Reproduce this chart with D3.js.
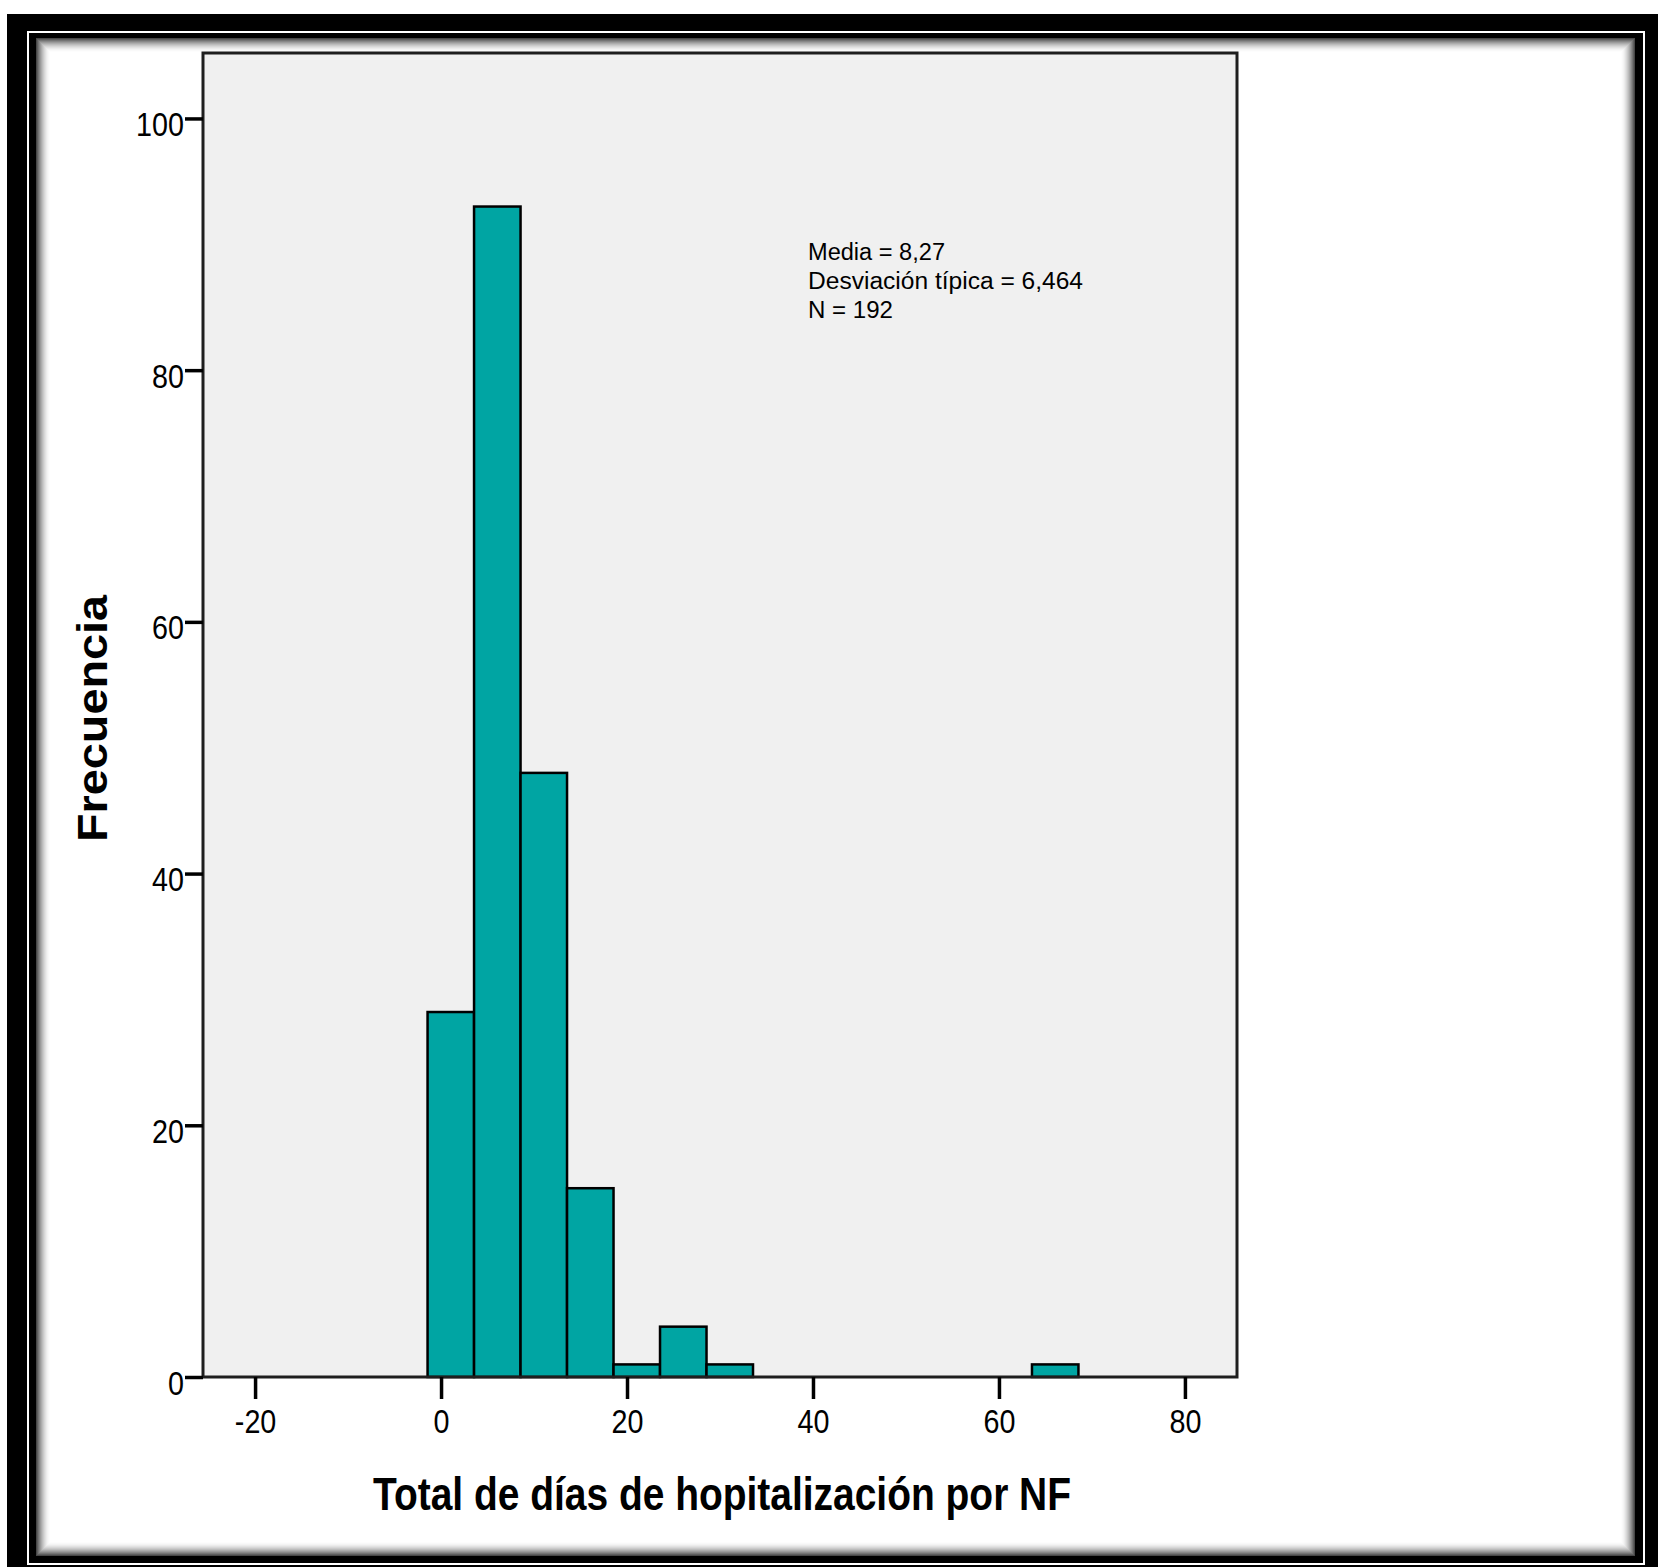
<!DOCTYPE html>
<html>
<head>
<meta charset="utf-8">
<script src="https://cdn.jsdelivr.net/npm/d3@7"></script>
<style>
  html, body { margin: 0; padding: 0; background: #ffffff; }
  svg { display: block; }
  text { font-family: "Liberation Sans", Arial, sans-serif; fill: #000; }
</style>
</head>
<body>
<svg id="chart" width="1658" height="1567"></svg>
<script>
// Histogram: bin edges (days) and frequency per bin
const binEdges = [-1.45, 3.55, 8.55, 13.55, 18.55, 23.55, 28.55, 33.55, 38.55, 43.55, 48.55, 53.55, 58.55, 63.55, 68.55];
const binCounts = [29, 93, 48, 15, 1, 4, 1, 0, 0, 0, 0, 0, 0, 1];

const xTicks = [-20, 0, 20, 40, 60, 80];
const yTicks = [0, 20, 40, 60, 80, 100];
const xDomain = [-25.6, 85.6];
const yDomain = [0, 105.2];

const statLines = ["Media = 8,27", "Desviación típica = 6,464", "N = 192"];
const xTitle = "Total de días de hopitalización por NF";
const yTitle = "Frecuencia";

const svg = d3.select("#chart");

// ---- decorative double frame with inner shadow ----
svg.append("rect").attr("x", 7).attr("y", 14).attr("width", 1651).attr("height", 1553).attr("fill", "#000");
svg.append("rect").attr("x", 28).attr("y", 32).attr("width", 1616).attr("height", 1532)
  .attr("fill", "none").attr("stroke", "#fff").attr("stroke-width", 2);
const inner = { x: 36, y: 38, w: 1599, h: 1518 };
svg.append("rect").attr("x", inner.x).attr("y", inner.y).attr("width", inner.w).attr("height", inner.h).attr("fill", "#fff");
const shadowSteps = d3.range(14);
svg.append("g").selectAll("rect").data(shadowSteps).join("rect")
  .attr("x", i => inner.x + i + 0.5)
  .attr("y", i => inner.y + i + 0.5)
  .attr("width", i => inner.w - 2 * i - 1)
  .attr("height", i => inner.h - 2 * i - 1)
  .attr("fill", "none")
  .attr("stroke", "#000")
  .attr("stroke-opacity", i => 0.72 * Math.pow(1 - i / 14, 1.8));

// ---- plot area ----
const plot = { left: 203, right: 1237, top: 53, bottom: 1377 };
const x = d3.scaleLinear().domain(xDomain).range([plot.left, plot.right]);
const y = d3.scaleLinear().domain(yDomain).range([plot.bottom, plot.top]);

svg.append("rect")
  .attr("x", plot.left).attr("y", plot.top)
  .attr("width", plot.right - plot.left).attr("height", plot.bottom - plot.top)
  .attr("fill", "#f0f0f0");

// bars
const bins = binCounts.map((c, i) => ({ x0: binEdges[i], x1: binEdges[i + 1], count: c }))
  .filter(d => d.count > 0);
svg.append("g").selectAll("rect").data(bins).join("rect")
  .attr("x", d => x(d.x0))
  .attr("y", d => y(d.count))
  .attr("width", d => x(d.x1) - x(d.x0))
  .attr("height", d => y(0) - y(d.count))
  .attr("fill", "#00a5a3")
  .attr("stroke", "#000")
  .attr("stroke-width", 2.5);

// plot border
svg.append("rect")
  .attr("x", plot.left).attr("y", plot.top)
  .attr("width", plot.right - plot.left).attr("height", plot.bottom - plot.top)
  .attr("fill", "none").attr("stroke", "#1e1e1e").attr("stroke-width", 3);

// ---- axes ----
const squeeze = 0.87;
const plainNumber = d => String(d);   // ASCII hyphen for negatives
const yAxis = svg.append("g")
  .attr("transform", `translate(${plot.left},0)`)
  .call(d3.axisLeft(y).tickValues(yTicks).tickSize(18).tickSizeOuter(0).tickFormat(plainNumber));
yAxis.select(".domain").remove();
yAxis.selectAll(".tick line").attr("stroke", "#000").attr("stroke-width", 3.5);
yAxis.selectAll(".tick text")
  .attr("font-size", 33)
  .attr("font-family", "Liberation Sans, Arial, sans-serif")
  .attr("text-anchor", "end")
  .attr("dy", null)
  .attr("x", -19 / squeeze)
  .attr("y", 17)
  .attr("transform", `scale(${squeeze},1)`);

const xAxis = svg.append("g")
  .attr("transform", `translate(0,${plot.bottom})`)
  .call(d3.axisBottom(x).tickValues(xTicks).tickSize(22).tickSizeOuter(0).tickFormat(plainNumber));
xAxis.select(".domain").remove();
xAxis.selectAll(".tick line").attr("stroke", "#000").attr("stroke-width", 3.5);
xAxis.selectAll(".tick text")
  .attr("font-size", 33)
  .attr("font-family", "Liberation Sans, Arial, sans-serif")
  .attr("text-anchor", "middle")
  .attr("dy", null)
  .attr("y", 56)
  .attr("transform", `scale(${squeeze},1)`);

// ---- axis titles ----
svg.append("text")
  .attr("x", 373).attr("y", 1510)
  .attr("font-size", 46).attr("font-weight", "bold")
  .attr("textLength", 698).attr("lengthAdjust", "spacingAndGlyphs")
  .text(xTitle);

svg.append("text")
  .attr("transform", "translate(107,842) rotate(-90)")
  .attr("x", 0).attr("y", 0)
  .attr("font-size", 42).attr("font-weight", "bold")
  .attr("textLength", 247).attr("lengthAdjust", "spacingAndGlyphs")
  .text(yTitle);

// ---- summary statistics ----
const statWidths = [137, 275, 85];
svg.append("g").selectAll("text").data(statLines).join("text")
  .attr("x", 808)
  .attr("y", (d, i) => 260 + i * 29)
  .attr("font-size", 23)
  .attr("textLength", (d, i) => statWidths[i])
  .attr("lengthAdjust", "spacingAndGlyphs")
  .text(d => d);
</script>
</body>
</html>
